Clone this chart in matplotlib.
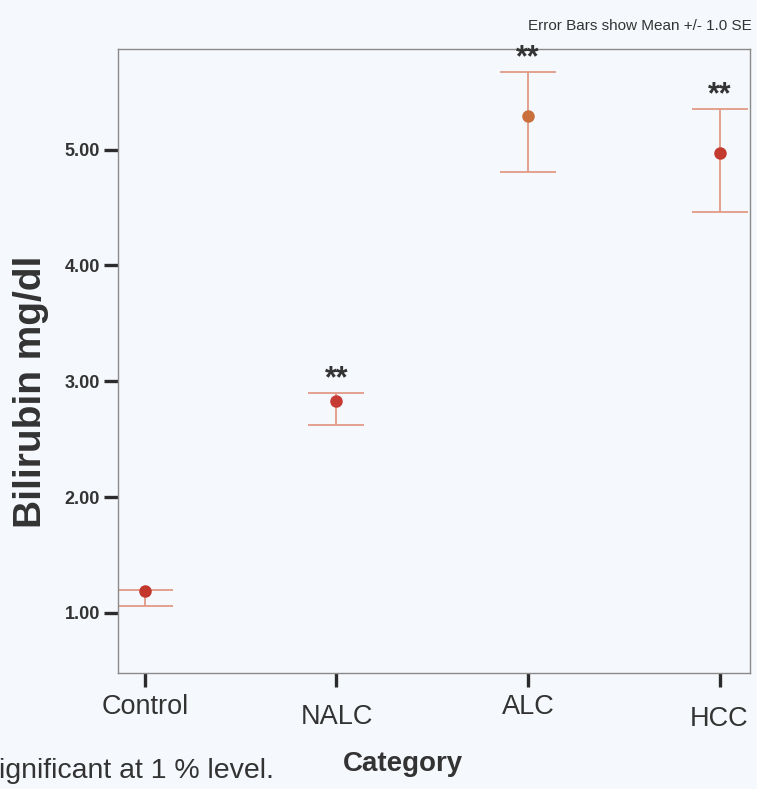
import matplotlib
matplotlib.use("Agg")
import matplotlib.pyplot as plt
import matplotlib.transforms as mtransforms
import numpy as np

plt.rcParams['font.family'] = ['Liberation Sans', 'DejaVu Sans']

# group means with the lower / upper ends of the +/- 1 SE bars (mg/dl)
categories = ["Control", "NALC", "ALC", "HCC"]
means = [1.19, 2.83, 5.29, 4.97]
se_low = [1.06, 2.62, 4.81, 4.46]
se_high = [1.20, 2.90, 5.67, 5.35]
significant = [False, True, True, True]
y_ticks = [1.0, 2.0, 3.0, 4.0, 5.0]

bg = "#f5f8fc"
text_col = "#333333"
bar_col = "#e39a86"
dot_cols = ["#c2362c", "#c63b33", "#c9703c", "#c43a2e"]

fig = plt.figure(figsize=(7.57, 7.89), dpi=100, facecolor=bg)
ax = fig.add_axes([0.156, 0.147, 0.835, 0.791], facecolor=bg)

x = np.arange(len(categories))
for i in x:
    ax.errorbar(x[i], means[i],
                yerr=[[means[i] - se_low[i]], [se_high[i] - means[i]]],
                fmt="none", ecolor=bar_col, elinewidth=1.3,
                capsize=20, capthick=1.3, zorder=2)
    ax.plot(x[i], means[i], "o", color=dot_cols[i], markersize=8, zorder=3)
    if significant[i]:
        ax.annotate("**", (x[i], se_high[i]), xytext=(0, -1),
                    textcoords="offset points", ha="center", va="bottom",
                    fontsize=22, fontweight="bold", color=text_col)

ax.set_xlim(-0.14, 3.16)
ax.set_ylim(0.48, 5.87)

ax.set_yticks(y_ticks)
ax.set_yticklabels([f"{v:.2f}" for v in y_ticks], fontsize=13,
                   fontweight="bold", color=text_col)
ax.set_xticks(x)
ax.set_xticklabels(categories, fontsize=19.5, color=text_col)
ax.tick_params(axis="both", direction="out", length=10, width=2.4,
               color="#2b2b2b")
ax.tick_params(axis="x", pad=5)
ax.tick_params(axis="y", pad=3)

# the category labels sit at slightly uneven heights
label_shift = [0, -10, 0, -12]
for lab, dy in zip(ax.get_xticklabels(), label_shift):
    lab.set_transform(lab.get_transform() +
                      mtransforms.ScaledTranslation(0, dy / 100, fig.dpi_scale_trans))

for side in ax.spines.values():
    side.set_color("#8a8a8a")
    side.set_linewidth(1.0)

ax.set_ylabel("Bilirubin mg/dl", fontsize=28, fontweight="bold",
              color=text_col)
ax.yaxis.set_label_coords(-0.11, 0.45)
ax.set_xlabel("Category", fontsize=20, fontweight="bold", color=text_col)
ax.xaxis.set_label_coords(0.45, -0.125)

fig.text(0.993, 0.962, "Error Bars show Mean +/- 1.0 SE", ha="right",
         va="baseline", fontsize=11, color=text_col)
fig.text(-0.027, 0.014, "Significant at 1 % level.", ha="left",
         va="baseline", fontsize=20.5, color=text_col)

fig.savefig("out.png", dpi=100, facecolor=bg)
